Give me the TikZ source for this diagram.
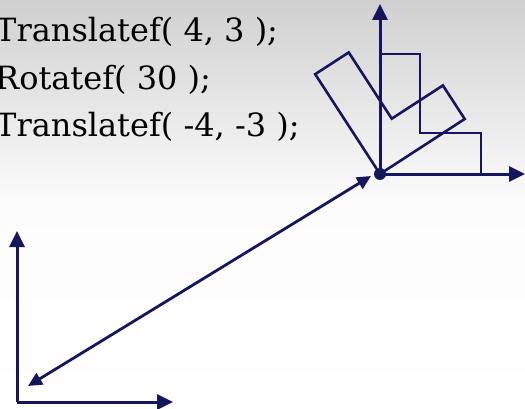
\documentclass[tikz,border=0pt]{standalone}
\usepackage{fontspec}
\setmainfont{DejaVu Serif}
\usetikzlibrary{arrows.meta}
\definecolor{navy}{RGB}{22,22,92}
\definecolor{bgtop}{RGB}{208,208,208}

\begin{document}
\begin{tikzpicture}[
  x=1pt, y=1pt,
  code/.style={anchor=base west, inner sep=0pt, font=\fontsize{32}{38}\selectfont, text=black},
  axis/.style={navy, line width=3pt, -{Triangle[length=16pt, width=15pt]}},
  outline/.style={navy, line width=2.6pt, line join=miter},
  move/.style={navy, line width=2.8pt, {Triangle[length=14pt, width=13pt]}-{Triangle[length=14pt, width=13pt]}},
  pivot/.style={circle, fill=navy, inner sep=0pt, minimum size=12pt}
]

% background
\shade[top color=bgtop, bottom color=white, middle color=white!94!bgtop]
  (0,0) rectangle (525,408);
\useasboundingbox (0,0) rectangle (525,408);

% code lines
\node[code] (line1) at (-5,366) {Translatef( 4, 3 );};
\node[code] (line2) at (-5,319) {Rotatef( 30 );};
\node[code] (line3) at (-5,272) {Translatef( -4, -3 );};

% frame at the world origin
\coordinate (worig) at (17,6);
\coordinate (wx) at (173,6);
\coordinate (wy) at (17,177);
\draw[axis] (worig) -- (wx);
\draw[axis] (worig) -- (wy);

% frame at the fixed point
\coordinate (forig) at (380,234);
\coordinate (fx) at (525,234);
\coordinate (fy) at (380,404);
\draw[axis] (forig) -- (fx);
\draw[axis] (forig) -- (fy);
\node[pivot] (fpt) at (forig) {};

% translation between the two
\coordinate (mstart) at (28,22);
\coordinate (mend) at (371,232);
\draw[move] (mstart) -- (mend);

% object before and after rotation
\draw[outline] (forig) -- ++(0,120) -- ++(40,0) -- ++(0,-79) -- ++(61,0) -- ++(0,-41);
\begin{scope}[shift={(forig)}, rotate=33]
  \draw[outline] (0,0) -- (0,119) -- (40,119) -- (40,40) -- (101,40) -- (101,0) -- cycle;
\end{scope}

\end{tikzpicture}
\end{document}
